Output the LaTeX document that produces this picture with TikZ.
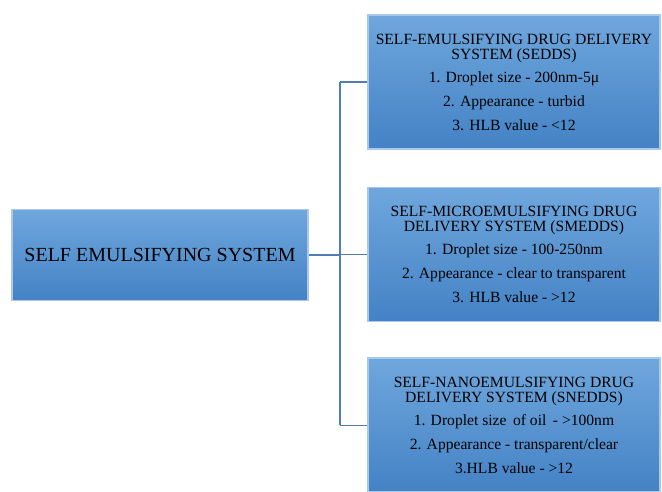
\documentclass[tikz,border=0pt]{standalone}
\usepackage{fontspec}
\setmainfont{Liberation Serif}
\usetikzlibrary{positioning}

\definecolor{boxtop}{HTML}{6FA7DD}
\definecolor{boxbottom}{HTML}{4482C5}
\definecolor{boxrim}{HTML}{A8C9EC}
\definecolor{linkblue}{HTML}{4F7EB4}

\begin{document}
\begin{tikzpicture}[
    x=1pt, y=1pt,
    node distance=37pt,
    rootbox/.style={
        rectangle,
        draw=boxrim,
        line width=1.6pt,
        top color=boxtop,
        bottom color=boxbottom,
        minimum width=296pt,
        minimum height=91pt,
        inner sep=0pt,
        font=\fontsize{20}{22}\selectfont
    },
    typebox/.style={
        rectangle,
        draw=boxrim,
        line width=1.6pt,
        top color=boxtop,
        bottom color=boxbottom,
        minimum width=292pt,
        minimum height=134pt,
        inner sep=0pt,
        align=center,
        font=\fontsize{15.6}{15}\selectfont
    },
    link/.style={draw=linkblue, line width=1.2pt}
]

\useasboundingbox (0,0) rectangle (662,-492);

\node[typebox] (sedds) at (514,-82) {SELF-EMULSIFYING DRUG DELIVERY\\SYSTEM (SEDDS)\\[8pt]1. Droplet size - 200nm-5μ\\[9pt]2. Appearance - turbid\\[9pt]3. HLB value - <12};
\node[typebox, below=of sedds] (smedds) {SELF-MICROEMULSIFYING DRUG\\DELIVERY SYSTEM (SMEDDS)\\[8pt]1. Droplet size - 100-250nm\\[9pt]2. Appearance - clear to transparent\\[9pt]3. HLB value - >12};
\node[typebox, below=35pt of smedds] (snedds) {SELF-NANOEMULSIFYING DRUG\\DELIVERY SYSTEM (SNEDDS)\\[8pt]1. Droplet size\, of oil\, - >100nm\\[9pt]2. Appearance - transparent/clear\\[9pt]3.HLB value - >12};
\node[rootbox] (root) at (160,-255) {SELF EMULSIFYING SYSTEM};

\coordinate (trunk) at (340,-255);

\draw[link] (root.east) -- (trunk);
\draw[link] (trunk |- sedds.west) -- (trunk |- snedds.west);
\draw[link] (trunk |- sedds.west) -- (sedds.west);
\draw[link] (trunk |- smedds.west) -- (smedds.west);
\draw[link] (trunk |- snedds.west) -- (snedds.west);

\end{tikzpicture}
\end{document}
